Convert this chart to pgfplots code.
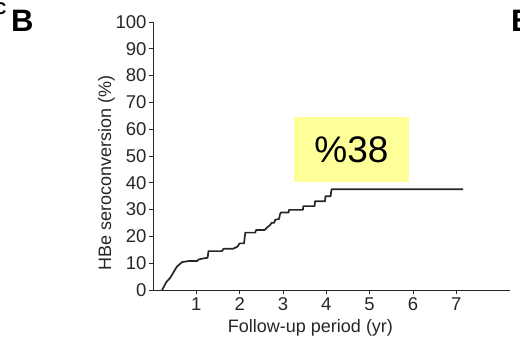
\documentclass[border=0pt]{standalone}
\usepackage{pgfplots}
\pgfplotsset{compat=1.18}
\usepackage{fontspec}
\setmainfont{Liberation Sans}
\definecolor{boxyellow}{HTML}{FFFF99}
\begin{document}
\begin{tikzpicture}[x=1pt,y=1pt]
\useasboundingbox (0,0) rectangle (520,354);
\clip (0,0) rectangle (520,354);
\begin{axis}[
  at={(153pt,64pt)}, anchor=origin,
  scale only axis, width=357pt, height=268pt,
  xmin=0, xmax=8.24, ymin=0, ymax=100,
  axis lines=left,
  axis line style={-, line width=0.9pt, black!85},
  xtick={1,2,3,4,5,6,7},
  ytick={0,10,...,100},
  tick align=outside,
  major tick length=4pt,
  tick style={line width=0.9pt, black!85},
  tick label style={font=\fontsize{18.5}{20}\selectfont, text=black!85},
  xticklabel style={yshift=0pt},
  yticklabel style={xshift=1pt},
  /pgf/number format/assume math mode=true,
  xlabel={Follow-up period (yr)},
  ylabel={HBe seroconversion (\%)},
  label style={font=\fontsize{18}{20}\selectfont, text=black!85},
  xlabel style={yshift=-2pt, xshift=-21pt},
  ylabel style={yshift=-6pt, xshift=-17pt},
  clip=false,
]
\addplot[line width=1.7pt, black!85, line join=round] coordinates {
(0.21,0) (0.31,3) (0.4,4.6) (0.55,8.7) (0.67,10.4) (0.82,10.8) (1.02,10.8)
(1.05,11.4) (1.17,11.8) (1.26,12) (1.28,14.5) (1.59,14.5) (1.63,15.4)
(1.85,15.4) (1.95,16.2) (2.0,17.4) (2.1,17.4) (2.13,21.4) (2.36,21.4)
(2.38,22.4) (2.58,22.4) (2.63,23.3) (2.7,24.2) (2.74,25.1) (2.8,25.1)
(2.82,26.2) (2.91,26.5) (2.93,28.2) (2.95,28.9) (3.13,28.9) (3.14,29.9)
(3.46,29.9) (3.47,31.3) (3.73,31.3) (3.74,33.1) (3.97,33.1) (3.98,35.0)
(4.1,35.0) (4.12,37.6) (7.16,37.6)
};
\end{axis}
\fill[boxyellow] (294,172) rectangle (409,237);
\node[font=\fontsize{37}{40}\selectfont] at (351.5,204) {\%38};
\node[font=\bfseries\fontsize{31}{34}\selectfont, anchor=base west, inner sep=0] at (11,322) {B};
\node[font=\bfseries\fontsize{17}{19}\selectfont, anchor=base west, inner sep=0] at (-6,339) {C};
\node[font=\bfseries\fontsize{31}{34}\selectfont, anchor=base west, inner sep=0] at (511,322) {B};
\end{tikzpicture}
\end{document}
